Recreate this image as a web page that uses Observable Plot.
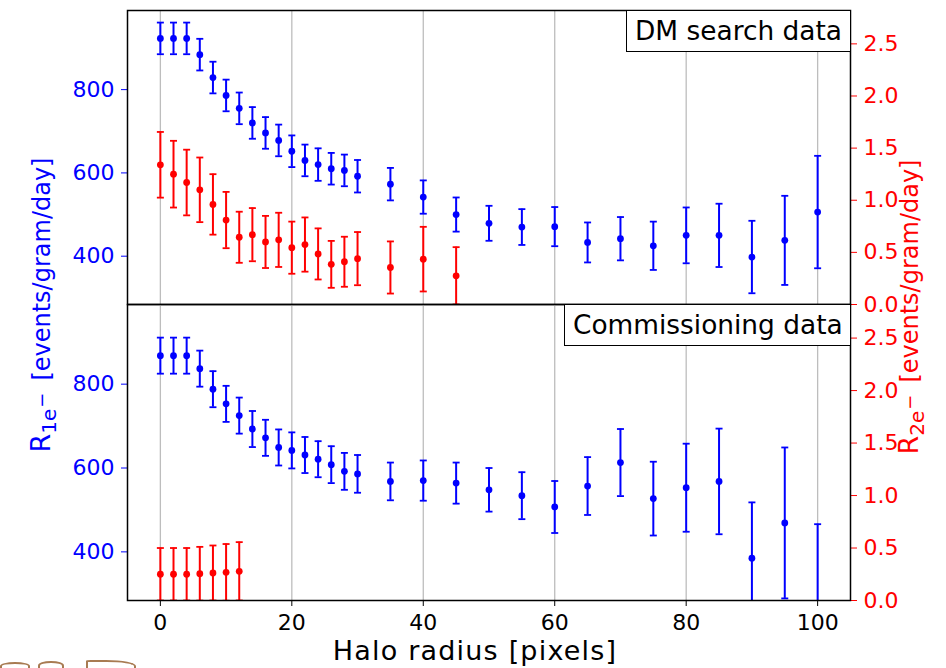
<!DOCTYPE html>
<html><head><meta charset="utf-8">
<script src="https://cdn.jsdelivr.net/npm/d3@7"></script>
<script src="https://cdn.jsdelivr.net/npm/@observablehq/plot@0.6"></script>
<style>
body{margin:0;background:#fff;}
#chart{position:relative;width:946px;height:668px;font-family:"DejaVu Sans",sans-serif;overflow:hidden;background:#fff;}
#chart svg{position:absolute;left:0;top:0;}
.lab{position:absolute;white-space:nowrap;font-size:24px;line-height:1;transform:translate(-50%,-50%) rotate(-90deg);}
.box{position:absolute;border:1.5px solid #000;background:#fff;font-size:26.4px;line-height:1;box-sizing:border-box;display:flex;align-items:center;padding-left:8px;white-space:nowrap;}
.rr{font-size:27px;}
.sub{font-size:20px;position:relative;top:6px;}
.sup{font-size:18px;position:relative;top:-8px;margin-left:1px;margin-right:12px;}
.blob{position:absolute;border:2px solid #a87b52;border-bottom:none;border-radius:50% 50% 0 0;box-sizing:border-box;}
</style></head>
<body><div id="chart"></div>
<script>
// ---- data ----
const xTicks = [0, 20, 40, 60, 80, 100];
const leftTicks = [400, 600, 800];
const rightTicks = [0, 0.5, 1.0, 1.5, 2.0, 2.5];

const dmX1 = [0,2,4,6,8,10,12,14,16,18,20,22,24,26,28,30,35,40,45,50,55,60,65,70,75,80,85,90,95,100];
const dmR1 = [923,923,923,884,829,786,755,720,696,678,652,630,620,610,606,592,573,542,500,479,470,471,433,442,425,450,450,398,438,506];
const dmR1Err = [38,38,38,38,38,38,38,38,38,38,38,38,39,38,38,39,39,40,41,42,43,47,48,52,58,67,76,87,107,135];

const dmX2 = [0,2,4,6,8,10,12,14,16,18,20,22,24,26,28,30,35,40,45];
const dmR2 = [1.34,1.25,1.17,1.10,0.96,0.81,0.645,0.67,0.60,0.62,0.545,0.575,0.485,0.385,0.41,0.44,0.355,0.435,0.275];
const dmR2Err = [0.315,0.32,0.315,0.31,0.29,0.27,0.245,0.255,0.25,0.26,0.25,0.26,0.245,0.225,0.24,0.255,0.25,0.31,0.275];

const cmX1 = [0,2,4,6,8,10,12,14,16,18,20,22,24,26,28,30,35,40,45,50,55,60,65,70,75,80,85,90,95,100];
const cmR1 = [868,868,868,837,788,753,725,693,672,649,642,631,621,608,592,586,568,570,564,548,534,507,557,613,527,553,568,385,469,276];
const cmR1Err = [43,43,43,43,43,43,43,43,43,43,43,43,43,44,44,45,45,48,49,52,56,62,69,80,88,105,126,133,180,190];

const cmX2 = [0,2,4,6,8,10,12];
const cmR2 = [0.25,0.25,0.25,0.255,0.262,0.268,0.278];
const cmR2Err = [0.25,0.25,0.25,0.256,0.262,0.27,0.278];

const leftDomain = [284, 990];
const rightDomain = [0, 2.82];
const xDomain = [-5, 105];

// ---- drawing ----
const BLUE = "#0000ff", RED = "#ff0000";
const capSymbol = {draw(ctx, size){ const r = Math.sqrt(size / Math.PI); ctx.moveTo(-r, 0); ctx.lineTo(r, 0); }};
const rows = (xs, vs, es) => xs.map((x, i) => ({x, v: vs[i], e: es[i]}));

function errMarks(data, color) {
  return [
    Plot.ruleX(data, {x: "x", y1: d => d.v - d.e, y2: d => d.v + d.e, stroke: color, strokeWidth: 2, clip: true}),
    Plot.dot(data, {x: "x", y: d => d.v + d.e, symbol: capSymbol, r: 3.5, stroke: color, fill: "none", strokeWidth: 1.8, clip: true}),
    Plot.dot(data, {x: "x", y: d => d.v - d.e, symbol: capSymbol, r: 3.5, stroke: color, fill: "none", strokeWidth: 1.8, clip: true}),
    Plot.dot(data, {x: "x", y: "v", r: 3.4, fill: color, stroke: "none", clip: true})
  ];
}

function panel({mt, mb, data, color, domain, ticks, side, grid, xAxis, frame}) {
  const marks = [];
  if (grid) marks.push(Plot.ruleX(xTicks, {stroke: "#bdbdbd", strokeWidth: 1.3}));
  marks.push(...errMarks(data, color));
  marks.push(Plot.axisY(ticks, {anchor: side, color: color, tickSize: 6, tickPadding: 7, fontSize: 22, label: null,
    tickFormat: side === "right" ? (d => d.toFixed(1)) : (d => String(d))}));
  if (xAxis) marks.push(Plot.axisX(xTicks, {anchor: "bottom", color: "black", tickSize: 6, tickPadding: 8, fontSize: 22, label: null}));
  if (frame) marks.push(Plot.frame({stroke: "black", strokeWidth: 1.5}));
  return Plot.plot({
    width: 946, height: 668,
    marginLeft: 127, marginRight: 96, marginTop: mt, marginBottom: mb,
    x: {domain: xDomain, axis: xAxis ? undefined : null},
    y: {domain},
    style: {background: "transparent", fontFamily: "DejaVu Sans", color: color},
    marks
  });
}

const chart = document.getElementById("chart");
const top0 = 10, mid = 304, bot = 600;
chart.append(panel({mt: top0, mb: 668 - mid, data: rows(dmX1, dmR1, dmR1Err), color: BLUE, domain: leftDomain, ticks: leftTicks, side: "left", grid: true}));
chart.append(panel({mt: top0, mb: 668 - mid, data: rows(dmX2, dmR2, dmR2Err), color: RED, domain: rightDomain, ticks: rightTicks, side: "right", frame: true}));
chart.append(panel({mt: mid, mb: 668 - bot, data: rows(cmX1, cmR1, cmR1Err), color: BLUE, domain: leftDomain, ticks: leftTicks, side: "left", grid: true, xAxis: true}));
chart.append(panel({mt: mid, mb: 668 - bot, data: rows(cmX2, cmR2, cmR2Err), color: RED, domain: rightDomain, ticks: rightTicks, side: "right", frame: true}));

function addDiv(cls, style, html) {
  const d = document.createElement("div");
  d.className = cls; d.setAttribute("style", style); d.innerHTML = html; chart.append(d); return d;
}
addDiv("box", "left:626px;top:10px;width:225px;height:42px;", "DM search data");
addDiv("box", "left:564px;top:304px;width:287px;height:42px;", "Commissioning data");
addDiv("lab", "left:40px;top:305px;color:" + BLUE + ";", '<span class="rr">R</span><span class="sub">1e<span class="sup">−</span></span>[events/gram/day]');
addDiv("lab", "left:908px;top:307px;color:" + RED + ";", '<span class="rr">R</span><span class="sub">2e<span class="sup">−</span></span>[events/gram/day]');
addDiv("", "position:absolute;left:475px;top:637px;transform:translateX(-50%);font-size:27px;letter-spacing:1.2px;line-height:1;white-space:nowrap;color:#000;", "Halo radius [pixels]");
addDiv("blob", "left:0px;top:662px;width:30px;height:8px;", "");
addDiv("blob", "left:38px;top:661px;width:26px;height:9px;", "");
addDiv("blob", "left:86px;top:660px;width:50px;height:10px;border-radius:10% 60% 0 0;", "");
</script></body></html>
